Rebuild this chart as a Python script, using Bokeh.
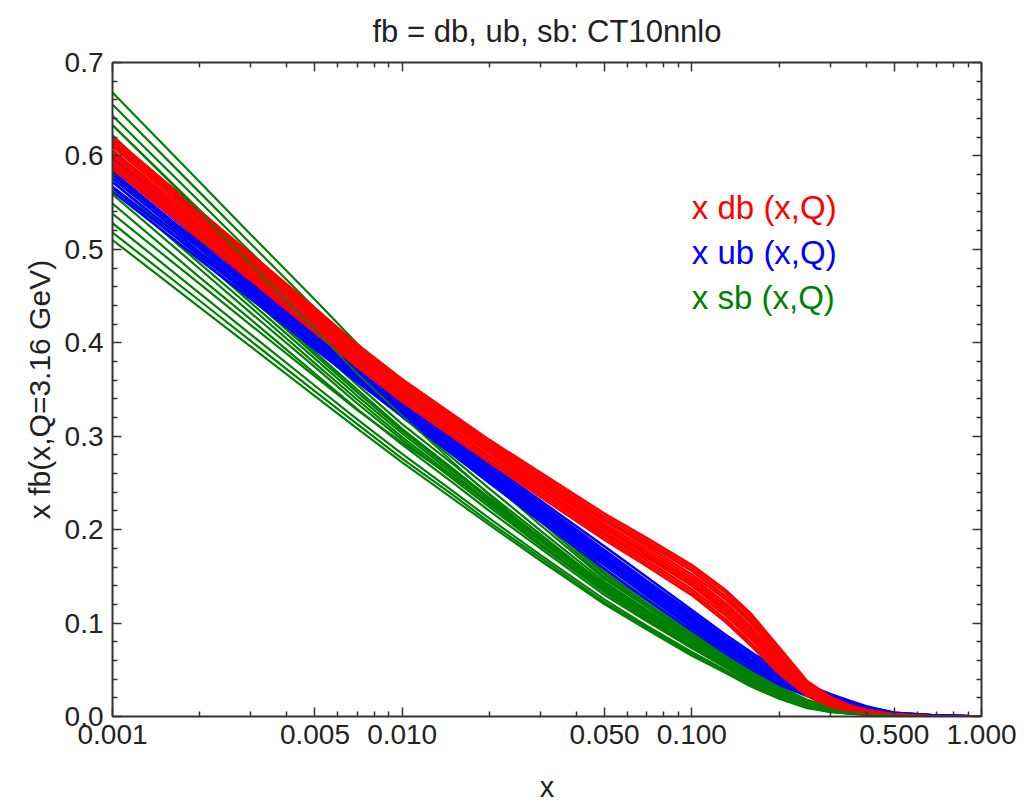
from bokeh.plotting import figure
from bokeh.models import (FixedTicker, LogAxis, LinearAxis, Label, Range1d,
                          PrintfTickFormatter, CustomLabelingPolicy)
from bokeh.embed import file_html
from bokeh.resources import INLINE

# ---------------- data ----------------
x_grid = [0.001, 0.002, 0.003, 0.005, 0.007, 0.01, 0.015, 0.02, 0.03, 0.05, 0.07,
          0.1, 0.13, 0.16, 0.2, 0.25, 0.3, 0.35, 0.4, 0.5, 0.7, 1.0]

db_members = [
    [0.620, 0.541, 0.495, 0.437, 0.398, 0.361, 0.323, 0.296, 0.261, 0.217, 0.191, 0.162, 0.136, 0.110, 0.074, 0.038, 0.021, 0.012, 0.007, 0.002, 0.0, 0.0],
    [0.617, 0.538, 0.492, 0.434, 0.396, 0.359, 0.321, 0.294, 0.258, 0.214, 0.188, 0.159, 0.133, 0.107, 0.071, 0.036, 0.020, 0.011, 0.007, 0.002, 0.0, 0.0],
    [0.613, 0.535, 0.489, 0.432, 0.393, 0.356, 0.318, 0.291, 0.256, 0.211, 0.185, 0.156, 0.129, 0.103, 0.068, 0.035, 0.019, 0.011, 0.006, 0.002, 0.0, 0.0],
    [0.610, 0.532, 0.487, 0.429, 0.391, 0.354, 0.316, 0.289, 0.253, 0.209, 0.182, 0.152, 0.126, 0.100, 0.066, 0.033, 0.018, 0.010, 0.006, 0.001, 0.0, 0.0],
    [0.606, 0.529, 0.484, 0.427, 0.388, 0.351, 0.313, 0.286, 0.251, 0.206, 0.179, 0.149, 0.122, 0.096, 0.063, 0.032, 0.017, 0.010, 0.005, 0.001, 0.0, 0.0],
    [0.603, 0.526, 0.481, 0.424, 0.386, 0.349, 0.311, 0.284, 0.248, 0.203, 0.176, 0.146, 0.119, 0.093, 0.060, 0.030, 0.016, 0.009, 0.005, 0.001, 0.0, 0.0],
    [0.600, 0.523, 0.478, 0.421, 0.384, 0.347, 0.309, 0.282, 0.245, 0.200, 0.173, 0.143, 0.116, 0.090, 0.057, 0.028, 0.015, 0.008, 0.005, 0.001, 0.0, 0.0],
    [0.596, 0.520, 0.475, 0.419, 0.381, 0.344, 0.306, 0.279, 0.243, 0.197, 0.170, 0.140, 0.112, 0.086, 0.054, 0.027, 0.014, 0.008, 0.004, 0.001, 0.0, 0.0],
    [0.593, 0.517, 0.473, 0.416, 0.379, 0.342, 0.304, 0.277, 0.240, 0.195, 0.167, 0.136, 0.109, 0.083, 0.052, 0.025, 0.013, 0.007, 0.004, 0.000, 0.0, 0.0],
    [0.589, 0.514, 0.470, 0.414, 0.376, 0.339, 0.301, 0.274, 0.238, 0.192, 0.164, 0.133, 0.105, 0.079, 0.049, 0.024, 0.012, 0.007, 0.003, 0.000, 0.0, 0.0],
    [0.586, 0.511, 0.467, 0.411, 0.374, 0.337, 0.299, 0.272, 0.235, 0.189, 0.161, 0.130, 0.102, 0.076, 0.046, 0.022, 0.011, 0.006, 0.003, 0.000, 0.0, 0.0],
    [0.615, 0.536, 0.490, 0.432, 0.393, 0.355, 0.315, 0.287, 0.250, 0.203, 0.173, 0.142, 0.114, 0.088, 0.056, 0.028, 0.015, 0.008, 0.005, 0.001, 0.0, 0.0],
    [0.591, 0.516, 0.472, 0.416, 0.380, 0.345, 0.310, 0.286, 0.253, 0.210, 0.185, 0.156, 0.129, 0.103, 0.068, 0.034, 0.019, 0.011, 0.006, 0.002, 0.0, 0.0],
]

ub_members = [
    [0.598, 0.519, 0.473, 0.415, 0.376, 0.337, 0.298, 0.270, 0.231, 0.182, 0.149, 0.114, 0.088, 0.069, 0.050, 0.034, 0.024, 0.017, 0.011, 0.004, 0.001, 0.0],
    [0.593, 0.515, 0.469, 0.412, 0.373, 0.335, 0.295, 0.267, 0.228, 0.178, 0.145, 0.111, 0.085, 0.066, 0.048, 0.032, 0.023, 0.016, 0.010, 0.004, 0.001, 0.0],
    [0.587, 0.510, 0.465, 0.408, 0.371, 0.332, 0.293, 0.264, 0.224, 0.175, 0.142, 0.107, 0.082, 0.064, 0.045, 0.030, 0.021, 0.015, 0.009, 0.003, 0.001, 0.0],
    [0.583, 0.506, 0.462, 0.406, 0.368, 0.330, 0.290, 0.262, 0.222, 0.172, 0.139, 0.105, 0.080, 0.061, 0.043, 0.029, 0.020, 0.014, 0.008, 0.003, 0.001, 0.0],
    [0.580, 0.504, 0.460, 0.404, 0.367, 0.329, 0.289, 0.260, 0.220, 0.170, 0.137, 0.103, 0.078, 0.060, 0.042, 0.028, 0.019, 0.013, 0.008, 0.003, 0.001, 0.0],
    [0.576, 0.501, 0.457, 0.402, 0.365, 0.327, 0.287, 0.258, 0.218, 0.168, 0.135, 0.101, 0.076, 0.058, 0.040, 0.027, 0.018, 0.012, 0.007, 0.003, 0.001, 0.0],
    [0.572, 0.497, 0.454, 0.399, 0.363, 0.325, 0.285, 0.256, 0.215, 0.165, 0.132, 0.098, 0.074, 0.056, 0.038, 0.025, 0.017, 0.011, 0.007, 0.003, 0.0, 0.0],
    [0.567, 0.494, 0.451, 0.396, 0.361, 0.323, 0.283, 0.253, 0.212, 0.162, 0.129, 0.095, 0.071, 0.054, 0.036, 0.024, 0.016, 0.010, 0.006, 0.002, 0.0, 0.0],
    [0.562, 0.489, 0.447, 0.393, 0.358, 0.321, 0.280, 0.250, 0.209, 0.158, 0.125, 0.092, 0.068, 0.051, 0.034, 0.022, 0.014, 0.009, 0.005, 0.002, 0.0, 0.0],
    [0.594, 0.516, 0.469, 0.411, 0.372, 0.332, 0.290, 0.259, 0.217, 0.166, 0.132, 0.097, 0.073, 0.056, 0.038, 0.025, 0.017, 0.011, 0.007, 0.003, 0.001, 0.0],
    [0.566, 0.493, 0.451, 0.397, 0.362, 0.326, 0.289, 0.263, 0.226, 0.177, 0.144, 0.110, 0.084, 0.065, 0.047, 0.031, 0.022, 0.015, 0.010, 0.004, 0.001, 0.0],
]

sb_members = [
    [0.668, 0.572, 0.516, 0.446, 0.399, 0.355, 0.307, 0.273, 0.221, 0.157, 0.126, 0.092, 0.069, 0.049, 0.032, 0.018, 0.011, 0.006, 0.004, 0.001, 0.0, 0.0],
    [0.655, 0.561, 0.506, 0.437, 0.391, 0.348, 0.300, 0.267, 0.216, 0.154, 0.124, 0.090, 0.067, 0.048, 0.031, 0.017, 0.011, 0.006, 0.004, 0.001, 0.0, 0.0],
    [0.643, 0.551, 0.497, 0.430, 0.384, 0.341, 0.295, 0.262, 0.212, 0.152, 0.121, 0.088, 0.066, 0.047, 0.030, 0.017, 0.010, 0.005, 0.004, 0.001, 0.0, 0.0],
    [0.633, 0.542, 0.489, 0.422, 0.378, 0.335, 0.289, 0.257, 0.209, 0.149, 0.119, 0.087, 0.064, 0.045, 0.030, 0.016, 0.010, 0.005, 0.004, 0.001, 0.0, 0.0],
    [0.622, 0.533, 0.481, 0.415, 0.372, 0.330, 0.284, 0.252, 0.205, 0.147, 0.117, 0.085, 0.063, 0.044, 0.029, 0.016, 0.009, 0.005, 0.003, 0.001, 0.0, 0.0],
    [0.606, 0.520, 0.468, 0.405, 0.363, 0.321, 0.276, 0.244, 0.199, 0.144, 0.114, 0.083, 0.061, 0.043, 0.028, 0.015, 0.009, 0.005, 0.003, 0.001, 0.0, 0.0],
    [0.593, 0.508, 0.458, 0.396, 0.355, 0.313, 0.270, 0.238, 0.195, 0.141, 0.112, 0.081, 0.059, 0.041, 0.027, 0.015, 0.008, 0.004, 0.003, 0.001, 0.0, 0.0],
    [0.584, 0.501, 0.451, 0.390, 0.350, 0.308, 0.265, 0.234, 0.192, 0.139, 0.110, 0.080, 0.058, 0.040, 0.026, 0.014, 0.008, 0.004, 0.003, 0.001, 0.0, 0.0],
    [0.580, 0.497, 0.448, 0.387, 0.347, 0.306, 0.263, 0.232, 0.190, 0.138, 0.109, 0.079, 0.057, 0.040, 0.026, 0.014, 0.008, 0.004, 0.003, 0.001, 0.0, 0.0],
    [0.573, 0.491, 0.443, 0.383, 0.343, 0.303, 0.260, 0.229, 0.188, 0.136, 0.107, 0.078, 0.056, 0.039, 0.025, 0.014, 0.008, 0.004, 0.003, 0.001, 0.0, 0.0],
    [0.566, 0.485, 0.438, 0.378, 0.339, 0.299, 0.257, 0.227, 0.185, 0.134, 0.106, 0.076, 0.055, 0.038, 0.025, 0.013, 0.007, 0.004, 0.003, 0.001, 0.0, 0.0],
    [0.559, 0.479, 0.432, 0.374, 0.335, 0.296, 0.254, 0.224, 0.183, 0.133, 0.104, 0.075, 0.054, 0.038, 0.024, 0.013, 0.007, 0.004, 0.003, 0.001, 0.0, 0.0],
    [0.549, 0.470, 0.425, 0.367, 0.329, 0.291, 0.250, 0.220, 0.180, 0.130, 0.102, 0.073, 0.053, 0.036, 0.023, 0.012, 0.007, 0.004, 0.003, 0.001, 0.0, 0.0],
    [0.528, 0.453, 0.409, 0.354, 0.318, 0.281, 0.241, 0.212, 0.173, 0.125, 0.097, 0.069, 0.050, 0.034, 0.021, 0.010, 0.006, 0.003, 0.002, 0.000, 0.0, 0.0],
    [0.518, 0.445, 0.402, 0.348, 0.313, 0.276, 0.237, 0.208, 0.170, 0.122, 0.095, 0.067, 0.048, 0.033, 0.020, 0.010, 0.005, 0.003, 0.002, 0.000, 0.0, 0.0],
    [0.510, 0.438, 0.396, 0.343, 0.308, 0.272, 0.233, 0.205, 0.167, 0.120, 0.093, 0.065, 0.047, 0.032, 0.019, 0.009, 0.005, 0.003, 0.002, 0.000, 0.0, 0.0],
    [0.538, 0.463, 0.419, 0.364, 0.328, 0.293, 0.256, 0.230, 0.192, 0.142, 0.114, 0.083, 0.061, 0.043, 0.028, 0.015, 0.009, 0.005, 0.003, 0.001, 0.0, 0.0],
    [0.633, 0.540, 0.484, 0.414, 0.367, 0.322, 0.272, 0.237, 0.190, 0.134, 0.105, 0.075, 0.054, 0.038, 0.024, 0.013, 0.007, 0.004, 0.003, 0.001, 0.0, 0.0],
]

legend_labels = ["x db (x,Q)", "x ub (x,Q)", "x sb (x,Q)"]
flavour_colors = ["#ff0000", "#0000ff", "#008000"]

x_ticks = [0.001, 0.005, 0.01, 0.05, 0.1, 0.5, 1.0]
x_tick_labels = ["0.001", "0.005", "0.010", "0.050", "0.100", "0.500", "1.000"]
x_minor_ticks = [0.002, 0.003, 0.004, 0.006, 0.007, 0.008, 0.009,
                 0.02, 0.03, 0.04, 0.06, 0.07, 0.08, 0.09,
                 0.2, 0.3, 0.4, 0.6, 0.7, 0.8, 0.9]
y_ticks = [0.0, 0.1, 0.2, 0.3, 0.4, 0.5, 0.6, 0.7]
y_tick_labels = ["0.0", "0.1", "0.2", "0.3", "0.4", "0.5", "0.6", "0.7"]
y_minor_ticks = [0.02, 0.04, 0.06, 0.08, 0.12, 0.14, 0.16, 0.18,
                 0.22, 0.24, 0.26, 0.28, 0.32, 0.34, 0.36, 0.38,
                 0.42, 0.44, 0.46, 0.48, 0.52, 0.54, 0.56, 0.58,
                 0.62, 0.64, 0.66, 0.68]

# ---------------- figure ----------------
FONT = "Liberation Sans"
INK = "#333333"
TXT = "#222222"

p = figure(width=1026, height=805, x_axis_type="log",
           x_range=Range1d(0.001, 1.0), y_range=Range1d(0.0, 0.7),
           output_backend="svg", toolbar_location=None,
           title="fb = db, ub, sb: CT10nnlo",
           min_border_left=112, min_border_right=45,
           min_border_top=62, min_border_bottom=88)
p.grid.visible = False
p.outline_line_color = None
p.background_fill_color = "white"
p.border_fill_color = "white"

p.title.align = "center"
p.title.standoff = 20
p.title.text_font = FONT
p.title.text_font_size = "31px"
p.title.text_font_style = "normal"
p.title.text_color = TXT

# curves: strange-sea members first, then ubar, then dbar on top;
# the last strange member is drawn over everything
for m in sb_members[:-1]:
    p.line(x_grid, m, line_color=flavour_colors[2], line_width=2.2)
for m in ub_members:
    p.line(x_grid, m, line_color=flavour_colors[1], line_width=2.6)
for m in db_members:
    p.line(x_grid, m, line_color=flavour_colors[0], line_width=2.6)
p.line(x_grid, sb_members[-1], line_color=flavour_colors[2], line_width=1.6)

xt = FixedTicker(ticks=x_ticks, minor_ticks=x_minor_ticks)
yt = FixedTicker(ticks=y_ticks, minor_ticks=y_minor_ticks)

hide_labels = CustomLabelingPolicy(code="""
for (const i of indices) { indices.unset(i) }
return indices
""")


def style(ax, show_labels=True):
    ax.axis_line_color = INK
    ax.axis_line_width = 2
    ax.major_tick_line_color = INK
    ax.major_tick_line_width = 1.5
    ax.minor_tick_line_color = INK
    ax.minor_tick_line_width = 1.5
    ax.major_tick_in = 9
    ax.major_tick_out = 0
    ax.minor_tick_in = 5
    ax.minor_tick_out = 0
    ax.major_label_text_font = FONT
    ax.major_label_text_color = TXT
    ax.axis_label_text_font = FONT
    ax.axis_label_text_font_style = "normal"
    ax.axis_label_text_color = TXT
    if show_labels:
        ax.major_label_text_font_size = "28px"
    else:
        ax.major_label_text_font_size = "2px"
        ax.major_label_standoff = 0
        ax.major_label_policy = hide_labels


xa = p.xaxis[0]
xa.ticker = xt
xa.formatter = PrintfTickFormatter(format="%.3f")
xa.major_label_overrides = dict(zip(x_ticks, x_tick_labels))
xa.major_label_standoff = 8
xa.axis_label = "x"
xa.axis_label_text_font_size = "29px"
xa.axis_label_standoff = 24
style(xa)

ya = p.yaxis[0]
ya.ticker = yt
ya.formatter = PrintfTickFormatter(format="%.1f")
ya.major_label_overrides = dict(zip(y_ticks, y_tick_labels))
ya.major_label_standoff = 9
ya.axis_label = "x fb(x,Q=3.16 GeV)"
ya.axis_label_text_font_size = "30px"
ya.axis_label_standoff = 6
style(ya)

top = LogAxis(ticker=xt)
style(top, show_labels=False)
p.add_layout(top, "above")

right = LinearAxis(ticker=yt)
style(right, show_labels=False)
p.add_layout(right, "right")

# coloured text legend
legend_x = 0.1
legend_y = [0.545, 0.497, 0.448]
for txt, col, yy in zip(legend_labels, flavour_colors, legend_y):
    p.add_layout(Label(x=legend_x, y=yy, text=txt, text_color=col,
                       text_font=FONT, text_font_size="33px",
                       text_align="left", text_baseline="middle"))

open("out.html", "w").write(file_html(p, INLINE))
